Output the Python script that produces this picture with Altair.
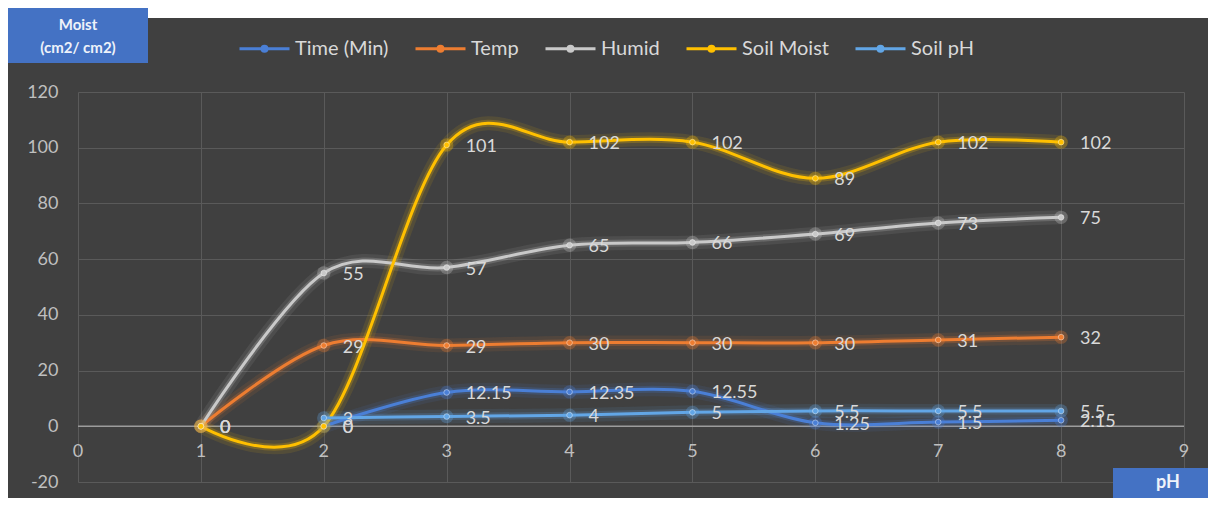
import altair as alt
import pandas as pd

# ---- data ----
ph_x = [1, 2, 3, 4, 5, 6, 7, 8]
time_min = [None, 0, 12.15, 12.35, 12.55, 1.25, 1.5, 2.15]
temp = [0, 29, 29, 30, 30, 30, 31, 32]
humid = [0, 55, 57, 65, 66, 69, 73, 75]
soil_moist = [0, 0, 101, 102, 102, 89, 102, 102]
soil_ph = [None, 3, 3.5, 4, 5, 5.5, 5.5, 5.5]

series_names = ["Time (Min)", "Temp", "Humid", "Soil Moist", "Soil pH"]
series_colors = ["#4a7fd6", "#ED7D31", "#c9c9c9", "#FFC000", "#62a6e6"]
x_ticks = [0, 1, 2, 3, 4, 5, 6, 7, 8, 9]
y_ticks = [-20, 0, 20, 40, 60, 80, 100, 120]

rows = []
for name, vals in zip(series_names, [time_min, temp, humid, soil_moist, soil_ph]):
    for xv, v in zip(ph_x, vals):
        if v is None:
            continue
        rows.append({"pH": xv, "value": v, "series": name, "label": f"{v:g}"})
df = pd.DataFrame(rows)

FONT = "Lato"
BG = "#404040"

color = alt.Color(
    "series:N",
    scale=alt.Scale(domain=series_names, range=series_colors),
    legend=alt.Legend(
        title=None,
        orient="none",
        direction="horizontal",
        legendX=160,
        legendY=-70,
        symbolType="M-1,0H1M-0.1,0A0.1,0.1,0,1,1,0.1,0A0.1,0.1,0,1,1,-0.1,0Z",
        symbolSize=2500,
        symbolStrokeWidth=3,
        symbolOpacity=1,
        labelColor="#d9d9d9",
        labelFontSize=20,
        labelFont=FONT,
        labelOffset=4,
        columnPadding=20,
    ),
)

xs = alt.X("pH:Q", scale=alt.Scale(domain=[0, 9], nice=False, zero=False),
           axis=alt.Axis(values=x_ticks, labels=False, ticks=False, domain=False,
                         grid=True, gridColor="#5a5a5a", title=None))
ys = alt.Y("value:Q", scale=alt.Scale(domain=[-20, 120], nice=False),
           axis=alt.Axis(values=y_ticks, labelColor="#bfbfbf", labelFontSize=18,
                         labelFont=FONT, labelPadding=20, ticks=False, domain=False,
                         labelExpr="datum.value < 0 ? '-' + abs(datum.value) : '' + datum.value",
                         grid=True, gridColor="#5a5a5a", title=None))

base = alt.Chart(df)

glow1 = base.mark_line(interpolate="cardinal", strokeWidth=14, opacity=0.10).encode(
    x=xs, y=ys, color=color, detail="series:N")
glow2 = base.mark_line(interpolate="cardinal", strokeWidth=7, opacity=0.22).encode(
    x=xs, y=ys, color=color, detail="series:N")
lines = base.mark_line(interpolate="cardinal", strokeWidth=3).encode(
    x=xs, y=ys, color=color, detail="series:N")
pt_glow = base.mark_circle(size=180, opacity=0.3).encode(x=xs, y=ys, color=color)
pts = base.mark_circle(size=32, opacity=1, stroke="#ffffff", strokeWidth=0.8,
                       strokeOpacity=0.5).encode(x=xs, y=ys, color=color)

labels = base.mark_text(align="left", baseline="middle", dx=19, dy=2,
                        fontSize=18, font=FONT, color="#d9d9d9").encode(
    x=xs, y=ys, text="label:N")

# zero line
zero_df = pd.DataFrame({"value": [0]})
zero = alt.Chart(zero_df).mark_rule(color="#9c9c9c", strokeWidth=1.5).encode(y=alt.Y("value:Q"))

# x tick labels sitting under the zero line
xt_df = pd.DataFrame({"pH": x_ticks, "value": [0] * len(x_ticks),
                      "t": [str(t) for t in x_ticks]})
xlabels = alt.Chart(xt_df).mark_text(baseline="middle", dy=26, fontSize=18, font=FONT,
                                     color="#bfbfbf").encode(
    x=alt.X("pH:Q"), y=alt.Y("value:Q"), text="t:N")

# decorations: white strip at top, blue title boxes
one = pd.DataFrame({"a": [0]})
top_strip = alt.Chart(one).mark_rect(color="#ffffff").encode(
    x=alt.value(70), x2=alt.value(1130), y=alt.value(-84), y2=alt.value(-74))
ybox = alt.Chart(one).mark_rect(color="#4472C4").encode(
    x=alt.value(-70), x2=alt.value(70), y=alt.value(-84), y2=alt.value(-29))
ybox_t1 = alt.Chart(one).mark_text(text="Moist", fontSize=15, fontWeight="bold", font=FONT,
                                   color="#eef2fa", baseline="middle").encode(
    x=alt.value(0), y=alt.value(-67))
ybox_t2 = alt.Chart(one).mark_text(text="(cm2/ cm2)", fontSize=15, fontWeight="bold", font=FONT,
                                   color="#eef2fa", baseline="middle").encode(
    x=alt.value(0), y=alt.value(-44))
xbox = alt.Chart(one).mark_rect(color="#4472C4").encode(
    x=alt.value(1035), x2=alt.value(1130), y=alt.value(376), y2=alt.value(406))
xbox_t = alt.Chart(one).mark_text(text="pH", fontSize=18, fontWeight="bold", font=FONT,
                                  color="#eef2fa", baseline="middle").encode(
    x=alt.value(1090), y=alt.value(391))

chart = alt.layer(
    zero, glow1, glow2, lines, pt_glow, pts, labels, xlabels,
    top_strip, ybox, ybox_t1, ybox_t2, xbox, xbox_t,
).properties(
    width=1106,
    height=390,
    padding={"left": 70, "top": 84, "right": 24, "bottom": 16},
    autosize=alt.AutoSizeParams(type="none"),
    background=BG,
).configure_view(stroke=None)

chart.save("out.html", embed_options={"renderer": "svg", "actions": False})
